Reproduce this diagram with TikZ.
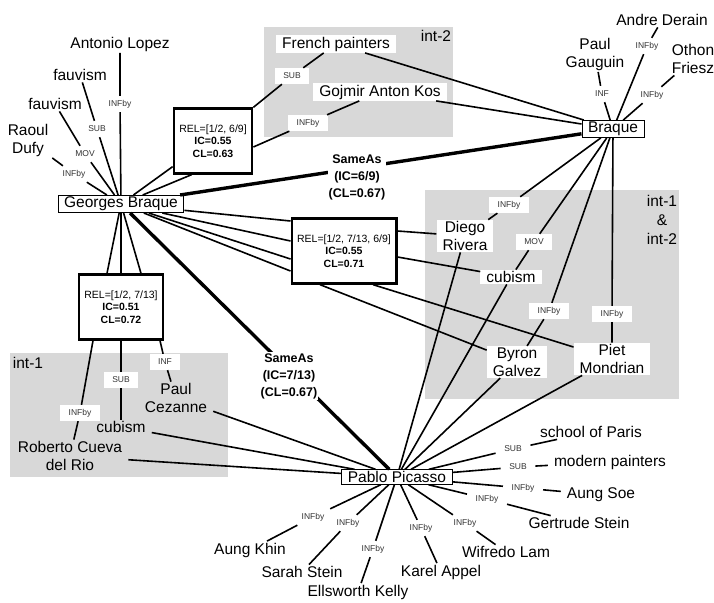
\documentclass[tikz,border=0pt]{standalone}
\usepackage{fontspec}
\setmainfont{Liberation Sans}
\definecolor{intgray}{RGB}{216,216,216}

\begin{document}
\begin{tikzpicture}[x=1pt,y=-1pt,
  term/.style={inner xsep=6pt,inner ysep=1.5pt,align=center,
    font=\fontsize{15.5}{18}\selectfont},
  termw/.style={term,fill=white},
  entity/.style={term,draw,line width=1pt,fill=white},
  rel/.style={fill=white,inner xsep=8.5pt,inner ysep=2pt,minimum height=16pt,
    text=black!80,font=\fontsize{8.5}{10}\selectfont},
  merged/.style={draw,line width=2.3pt,fill=white,inner xsep=5.5pt,
    minimum height=65pt,align=center,font=\fontsize{10.5}{12.5}\selectfont},
  sameas/.style={fill=white,inner sep=1pt,align=center,
    font=\fontsize{12.5}{17}\selectfont\bfseries},
  link/.style={line width=1.6pt},
  samelink/.style={line width=3.4pt},
  interp/.style={fill=intgray},
  interplbl/.style={align=center,inner sep=0pt,
    font=\fontsize{15.5}{19}\selectfont}]

\useasboundingbox (0,0) rectangle (714,602);

% interpretation areas
\fill[interp] (264,27) rectangle (453,137);
\fill[interp] (425,190) rectangle (679,399);
\fill[interp] (10,353) rectangle (228,477);
\node[interplbl] (int2) at (436,36) {int-2};
\node[interplbl] (int12) at (662,220) {int-1\\\&\\int-2};
\node[interplbl] (int1) at (28,363) {int-1};

% the three entities
\node[entity] (GB) at (121,204) {Georges Braque};
\node[entity] (BR) at (613,129) {Braque};
\node[entity] (PP) at (397,477) {Pablo Picasso};

% around Georges Braque
\node[term] (antonio) at (120,44) {Antonio Lopez};
\node[term] (fauvU) at (80,75) {fauvism};
\node[term] (fauvL) at (55,104) {fauvism};
\node[term] (raoul) at (28,140) {Raoul\\Dufy};
\node[rel] (infA) at (120,104) {INFby};
\node[rel] (subF) at (97,129) {SUB};
\node[rel] (movF) at (85,154) {MOV};
\node[rel] (infRD) at (74,174) {INFby};

% int-2
\node[termw] (french) at (336,44) {French painters};
\node[rel] (subFP) at (292,76) {SUB};
\node[termw] (gojmir) at (380,92) {Gojmir Anton Kos};
\node[rel] (infGK) at (308,123) {INFby};

% around Braque
\node[term] (derain) at (662,20) {Andre Derain};
\node[term] (gauguin) at (595,54) {Paul\\Gauguin};
\node[term] (othon) at (693,59) {Othon\\Friesz};
\node[rel] (infAD) at (647,46) {INFby};
\node[rel] (infPG) at (602,94) {INF};
\node[rel] (infOF) at (652,95) {INFby};

% int-1 & int-2
\node[termw] (diego) at (465,236) {Diego\\Rivera};
\node[rel] (infDR) at (509,205) {INFby};
\node[rel] (movCR) at (534,242) {MOV};
\node[termw] (cubR) at (511,277) {cubism};
\node[rel] (infBG) at (549,311) {INFby};
\node[rel] (infPM) at (612,314) {INFby};
\node[termw] (byron) at (517,362) {Byron\\Galvez};
\node[termw] (piet) at (612,359) {Piet\\Mondrian};

% merged relations
\node[merged] (rel1) at (213,141) {REL=[1/2, 6/9]\\\textbf{IC=0.55}\\\textbf{CL=0.63}};
\node[merged] (rel2) at (344,251) {REL=[1/2, 7/13, 6/9]\\\textbf{IC=0.55}\\\textbf{CL=0.71}};
\node[merged] (rel3) at (121,307) {REL=[1/2, 7/13]\\\textbf{IC=0.51}\\\textbf{CL=0.72}};

% int-1
\node[rel] (infRC) at (80,413) {INFby};
\node[rel] (subCL) at (121,380) {SUB};
\node[rel] (infPC) at (165,362) {INF};
\node[term] (paulC) at (176,398) {Paul\\Cezanne};
\node[term] (cubL) at (121,427) {cubism};
\node[term] (roberto) at (70,456) {Roberto Cueva\\del Rio};

% around Pablo Picasso
\node[rel] (subSP) at (513,449) {SUB};
\node[term] (paris) at (591,432) {school of Paris};
\node[rel] (subMP) at (518,467) {SUB};
\node[term] (modern) at (610,462) {modern painters};
\node[rel] (infAS) at (523,488) {INFby};
\node[term] (aungsoe) at (601,495) {Aung Soe};
\node[rel] (infGS) at (487,499) {INFby};
\node[term] (gertrude) at (579,523) {Gertrude Stein};
\node[rel] (infWL) at (465,523) {INFby};
\node[term] (wifredo) at (506,552) {Wifredo Lam};
\node[rel] (infKA) at (421,528) {INFby};
\node[term] (karel) at (441,572) {Karel Appel};
\node[rel] (infEK) at (373,549) {INFby};
\node[term] (ellsworth) at (358,592) {Ellsworth Kelly};
\node[rel] (infSS) at (348,523) {INFby};
\node[term] (sarah) at (302,572) {Sarah Stein};
\node[rel] (infAK) at (313,517) {INFby};
\node[term] (aungkhin) at (250,550) {Aung Khin};

% Georges Braque links
\draw[link] (GB) -- (infA) -- (antonio);
\draw[link] (GB) -- (subF) -- (fauvU);
\draw[link] (GB) -- (movF) -- (fauvL);
\draw[link] (GB) -- (infRD) -- (raoul);
\draw[link] (GB) -- ([yshift=8pt]rel1.south west);
\draw[link] (GB) -- ([xshift=19pt]rel1.south west);
\draw[link] (rel1.north east) -- (subFP) -- (french);
\draw[link] ([yshift=-6pt]rel1.east) -- (infGK) -- (gojmir);
\draw[link] (GB) -- ([yshift=30pt]rel2.west);
\draw[link] (GB) -- ([yshift=10pt]rel2.west);
\draw[link] (GB) -- ([yshift=-8pt]rel2.west);
\draw[link] (GB) -- ([yshift=-20pt]rel2.west);
\draw[link] ([yshift=20pt]rel2.east) -- (diego);
\draw[link] ([yshift=-6pt]rel2.east) -- (cubR);
\draw[link] ([xshift=-24pt]rel2.south) -- (byron);
\draw[link] ([xshift=29pt]rel2.south) -- (piet);
\draw[link] (GB) -- ([xshift=-14pt]rel3.north);
\draw[link] (GB) -- (rel3.north);
\draw[link] (GB) -- ([xshift=20pt]rel3.north);
\draw[link] ([xshift=-28pt]rel3.south) -- (infRC) -- (roberto);
\draw[link] (rel3.south) -- (subCL) -- (cubL);
\draw[link] ([xshift=39pt]rel3.south) -- (infPC) -- (paulC);

% Braque links
\draw[link] (BR) -- (french);
\draw[link] (BR) -- (gojmir);
\draw[link] (BR) -- (infPG) -- (gauguin);
\draw[link] (BR) -- (infAD) -- (derain);
\draw[link] (BR) -- (infOF) -- (othon);
\draw[link] (BR) -- (infDR) -- (diego);
\draw[link] (BR) -- (movCR) -- (cubR);
\draw[link] (BR) -- (infBG) -- (byron);
\draw[link] (BR) -- (infPM) -- (piet);

% Pablo Picasso links
\draw[link] (PP) -- (paulC);
\draw[link] (PP) -- (cubL);
\draw[link] (PP) -- (roberto);
\draw[link] (PP) -- (diego);
\draw[link] (PP) -- (cubR);
\draw[link] (PP) -- (byron);
\draw[link] (PP) -- (piet);
\draw[link] (PP) -- (subSP) -- (paris);
\draw[link] (PP) -- (subMP) -- (modern);
\draw[link] (PP) -- (infAS) -- (aungsoe);
\draw[link] (PP) -- (infGS) -- (gertrude);
\draw[link] (PP) -- (infWL) -- (wifredo);
\draw[link] (PP) -- (infKA) -- (karel);
\draw[link] (PP) -- (infEK) -- (ellsworth);
\draw[link] (PP) -- (infSS) -- (sarah);
\draw[link] (PP) -- (infAK) -- (aungkhin);

% SameAs
\draw[samelink] (GB) -- (BR);
\draw[samelink] (GB) -- (PP);
\node[sameas] (same1) at (357,177) {SameAs\\(IC=6/9)\\(CL=0.67)};
\node[sameas] (same2) at (289,376) {SameAs\\(IC=7/13)\\(CL=0.67)};
\end{tikzpicture}
\end{document}
